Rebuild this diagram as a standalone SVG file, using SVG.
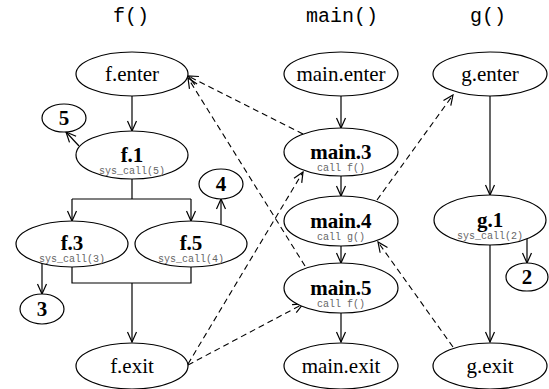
<svg xmlns="http://www.w3.org/2000/svg" width="549" height="389" viewBox="0 0 549 389">
<defs>
<style>
.n{fill:#fff;stroke:#000;stroke-width:1.2}
.t{font-size:21px;fill:#000;text-anchor:middle}
.b{font-weight:bold}
.s{font-size:10px;fill:#666;text-anchor:middle}
.h{font-size:20px;fill:#000;text-anchor:middle}
.e{fill:none;stroke:#000;stroke-width:1.2}
.d{fill:none;stroke:#000;stroke-width:1.1;stroke-dasharray:6,4}
</style>
<marker id="a" markerUnits="userSpaceOnUse" markerWidth="12" markerHeight="12" viewBox="0 0 12 12" refX="11" refY="6" orient="auto">
<path d="M1,1.5 L11,6 L1,10.5" fill="none" stroke="#000" stroke-width="1.2"/>
</marker>
</defs>
<g id="headers" font-family="Liberation Mono, monospace">
<text class="h" x="131" y="22">f()</text>
<text class="h" x="342" y="22">main()</text>
<text class="h" x="488" y="22">g()</text>
</g>
<g id="connectors">
<path class="e" d="M132,96 V131" marker-end="url(#a)"/>
<path class="e" d="M79,146 L66,132" marker-end="url(#a)"/>
<path class="e" d="M132,179 V199 M72,199 H191"/>
<path class="e" d="M72,199 V221" marker-end="url(#a)"/>
<path class="e" d="M191,199 V221" marker-end="url(#a)"/>
<path class="e" d="M221,225 V199" marker-end="url(#a)"/>
<path class="e" d="M42,263 V294" marker-end="url(#a)"/>
<path class="e" d="M72,267 V283 H191 V267"/>
<path class="e" d="M132,283 V342" marker-end="url(#a)"/>
<path class="e" d="M341,96 V128" marker-end="url(#a)"/>
<path class="e" d="M341,176 V196" marker-end="url(#a)"/>
<path class="e" d="M341,246 V263" marker-end="url(#a)"/>
<path class="e" d="M341,313 V342" marker-end="url(#a)"/>
<path class="e" d="M490,96 V195" marker-end="url(#a)"/>
<path class="e" d="M527,238 V263" marker-end="url(#a)"/>
<path class="e" d="M490,245 V342" marker-end="url(#a)"/>
<path class="d" d="M303,134 L188,76" marker-end="url(#a)"/>
<path class="d" d="M305,266 L188,78" marker-end="url(#a)"/>
<path class="d" d="M188,364 L303,172" marker-end="url(#a)"/>
<path class="d" d="M188,365 L303,304" marker-end="url(#a)"/>
<path class="d" d="M377,200 L453,95" marker-end="url(#a)"/>
<path class="d" d="M453,347 L378,242" marker-end="url(#a)"/>
</g>
<g id="nodes" font-family="Liberation Serif, serif">
<g id="f.enter"><ellipse class="n" cx="132" cy="74" rx="56" ry="22"/><text class="t" x="132" y="81">f.enter</text></g>
<g id="f.1"><ellipse class="n" cx="132" cy="155" rx="56" ry="24"/><text class="t b" x="132" y="162">f.1</text><text class="s" font-family="Liberation Mono, monospace" x="132" y="174">sys_call(5)</text></g>
<g id="n5"><ellipse class="n" cx="64" cy="118" rx="22" ry="14"/><text class="t b" x="64" y="125">5</text></g>
<g id="f.3"><ellipse class="n" cx="72" cy="244" rx="56" ry="23"/><text class="t b" x="72" y="250">f.3</text><text class="s" font-family="Liberation Mono, monospace" x="72" y="262">sys_call(3)</text></g>
<g id="f.5"><ellipse class="n" cx="191" cy="244" rx="56" ry="23"/><text class="t b" x="191" y="250">f.5</text><text class="s" font-family="Liberation Mono, monospace" x="191" y="262">sys_call(4)</text></g>
<g id="n4"><ellipse class="n" cx="221" cy="184" rx="22" ry="15"/><text class="t b" x="221" y="191">4</text></g>
<g id="n3"><ellipse class="n" cx="42" cy="309" rx="22" ry="15"/><text class="t b" x="42" y="316">3</text></g>
<g id="f.exit"><ellipse class="n" cx="132" cy="366" rx="56" ry="23"/><text class="t" x="132" y="373">f.exit</text></g>
<g id="main.enter"><ellipse class="n" cx="341" cy="74" rx="57" ry="22"/><text class="t" x="341" y="81">main.enter</text></g>
<g id="main.3"><ellipse class="n" cx="341" cy="152" rx="57" ry="24"/><text class="t b" x="341" y="159">main.3</text><text class="s" font-family="Liberation Mono, monospace" x="341" y="171">call f()</text></g>
<g id="main.4"><ellipse class="n" cx="341" cy="221" rx="57" ry="25"/><text class="t b" x="341" y="228">main.4</text><text class="s" font-family="Liberation Mono, monospace" x="341" y="240">call g()</text></g>
<g id="main.5"><ellipse class="n" cx="341" cy="288" rx="57" ry="25"/><text class="t b" x="341" y="295">main.5</text><text class="s" font-family="Liberation Mono, monospace" x="341" y="307">call f()</text></g>
<g id="main.exit"><ellipse class="n" cx="341" cy="366" rx="57" ry="23"/><text class="t" x="341" y="373">main.exit</text></g>
<g id="g.enter"><ellipse class="n" cx="490" cy="74" rx="57" ry="22"/><text class="t" x="490" y="81">g.enter</text></g>
<g id="g.1"><ellipse class="n" cx="490" cy="220" rx="56" ry="25"/><text class="t b" x="490" y="227">g.1</text><text class="s" font-family="Liberation Mono, monospace" x="490" y="239">sys_call(2)</text></g>
<g id="n2"><ellipse class="n" cx="527" cy="277" rx="21" ry="14"/><text class="t b" x="527" y="284">2</text></g>
<g id="g.exit"><ellipse class="n" cx="490" cy="366" rx="57" ry="23"/><text class="t" x="490" y="373">g.exit</text></g>
</g>
</svg>
